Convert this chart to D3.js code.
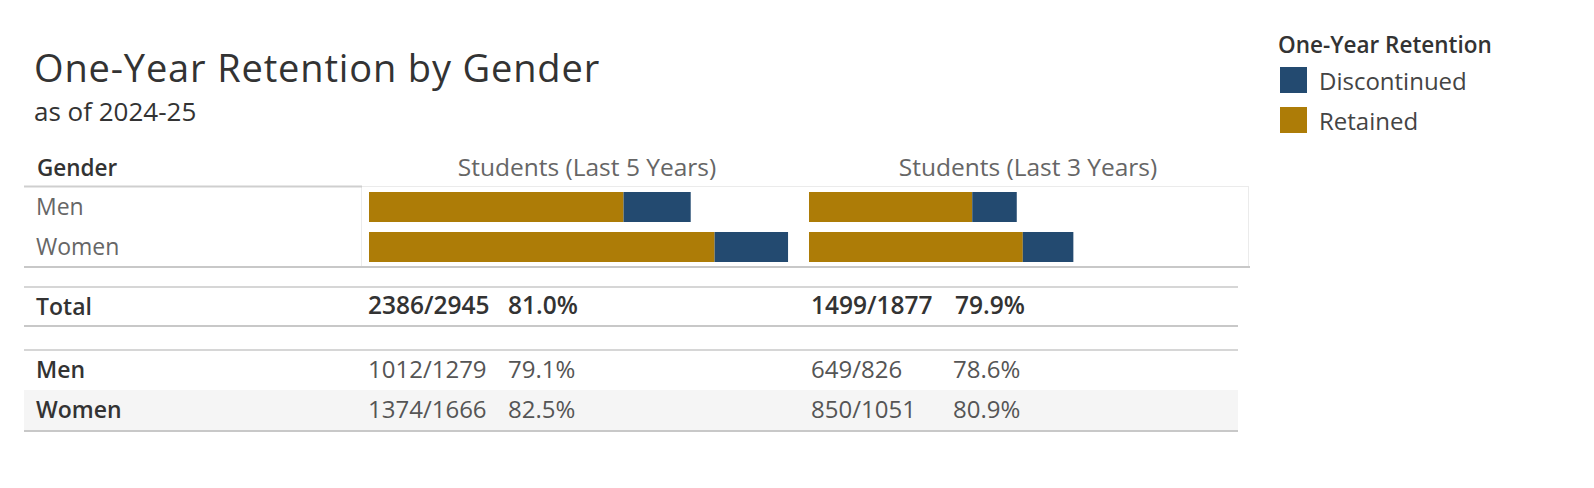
<!DOCTYPE html>
<html><head><meta charset="utf-8">
<script src="https://cdn.jsdelivr.net/npm/d3@7"></script>
<style>
html,body{margin:0;padding:0;background:#fff;}
svg text{font-family:"Open Sans",sans-serif;}
</style></head>
<body><svg id="c" width="1594" height="488"></svg>
<script>
const genders = ["Men", "Women"];
const seriesNames = ["Discontinued", "Retained"];
const panes = ["Students (Last 5 Years)", "Students (Last 3 Years)"];
const retained5 = [1012, 1374];
const total5 = [1279, 1666];
const retained3 = [649, 850];
const total3 = [826, 1051];
const retainedAll = [2386, 1499];
const totalAll = [2945, 1877];

const colors = {Discontinued: "#234a70", Retained: "#ad7c07"};
const svg = d3.select("#c");
const pct = d3.format(".1%");

// Title
svg.append("text").attr("x", 34).attr("y", 82).attr("font-size", 38).attr("letter-spacing", 0.85).attr("fill", "#333").text("One-Year Retention by Gender");
svg.append("text").attr("x", 34).attr("y", 121).attr("font-size", 26).attr("fill", "#333").text("as of 2024-25");

// Legend
const lg = svg.append("g").attr("transform", "translate(1278,0)");
lg.append("text").attr("x", 0).attr("y", 53).attr("font-size", 22.5).attr("font-weight", 600).attr("fill", "#333").text("One-Year Retention");
seriesNames.forEach((s, i) => {
  lg.append("rect").attr("x", 2).attr("y", 67 + i * 40).attr("width", 27).attr("height", 26).attr("fill", colors[s]);
  lg.append("text").attr("x", 41).attr("y", 90 + i * 40).attr("font-size", 24).attr("fill", "#444").text(s);
});

// Header
svg.append("text").attr("x", 37).attr("y", 176).attr("font-size", 22.5).attr("font-weight", 600).attr("fill", "#333").text("Gender");
const paneX = [369, 809];
const paneC = [587, 1028];
const x = d3.scaleLinear().domain([0, 1700]).range([0, 427.6]);
panes.forEach((p, i) => {
  svg.append("text").attr("x", paneC[i]).attr("y", 176).attr("text-anchor", "middle").attr("font-size", 24.5).attr("fill", "#666").text(p);
});

const hline = (x1, x2, yy, c, w) => svg.append("line").attr("x1", x1).attr("x2", x2).attr("y1", yy).attr("y2", yy).attr("stroke", c).attr("stroke-width", w || 1);

// Pane border
svg.append("rect").attr("x", 361.5).attr("y", 186.5).attr("width", 887).attr("height", 80).attr("fill", "none").attr("stroke", "#ebebeb");
hline(24, 362, 186.5, "#cfcfcf", 2);
hline(24, 1250, 267, "#c8c8c8", 2);

// Rows
const y = d3.scaleBand().domain(genders).range([187, 267]).paddingInner(0.25).paddingOuter(0.125);
genders.forEach(g => {
  svg.append("text").attr("x", 36).attr("y", y(g) + y.bandwidth() / 2 + 8).attr("font-size", 23).attr("fill", "#666").text(g);
});
[[retained5, total5], [retained3, total3]].forEach(([r, t], pi) => {
  const gp = svg.append("g").attr("transform", `translate(${paneX[pi]},0)`);
  genders.forEach((g, i) => {
    gp.append("rect").attr("x", x(0)).attr("y", y(g)).attr("width", x(r[i]) - x(0)).attr("height", y.bandwidth()).attr("fill", colors.Retained);
    gp.append("rect").attr("x", x(r[i])).attr("y", y(g)).attr("width", x(t[i]) - x(r[i])).attr("height", y.bandwidth()).attr("fill", colors.Discontinued);
  });
});

// Totals table
const tableR = 1238;
hline(24, tableR, 287, "#d6d6d6", 2);
svg.append("text").attr("x", 36).attr("y", 315).attr("font-size", 23).attr("font-weight", 600).attr("fill", "#333").text("Total");
const numX = [368, 811], pctX = [508, 955], pctX2 = [508, 953];
retainedAll.forEach((r, i) => {
  svg.append("text").attr("x", numX[i]).attr("y", 314).attr("font-size", 24.5).attr("font-weight", 600).attr("fill", "#333").text(`${r}/${totalAll[i]}`);
  svg.append("text").attr("x", pctX[i]).attr("y", 314).attr("font-size", 24.5).attr("font-weight", 600).attr("fill", "#333").text(pct(r / totalAll[i]));
});
hline(24, tableR, 326, "#c8c8c8", 2);

// Gender table
hline(24, tableR, 350, "#d6d6d6", 2);
const ry = {Men: 378, Women: 418};
svg.append("rect").attr("x", 24).attr("y", 390).attr("width", tableR - 24).attr("height", 40).attr("fill", "#f5f5f5");
const rows = [[retained5, total5], [retained3, total3]];
genders.forEach((g, gi) => {
  svg.append("text").attr("x", 36).attr("y", ry[g]).attr("font-size", 23).attr("font-weight", 600).attr("fill", "#333").text(g);
  rows.forEach(([r, t], pi) => {
    svg.append("text").attr("x", numX[pi]).attr("y", ry[g]).attr("font-size", 24).attr("fill", "#555").text(`${r[gi]}/${t[gi]}`);
    svg.append("text").attr("x", pctX2[pi]).attr("y", ry[g]).attr("font-size", 24).attr("fill", "#555").text(pct(r[gi] / t[gi]));
  });
});
hline(24, tableR, 431, "#c8c8c8", 2);
</script></body></html>
